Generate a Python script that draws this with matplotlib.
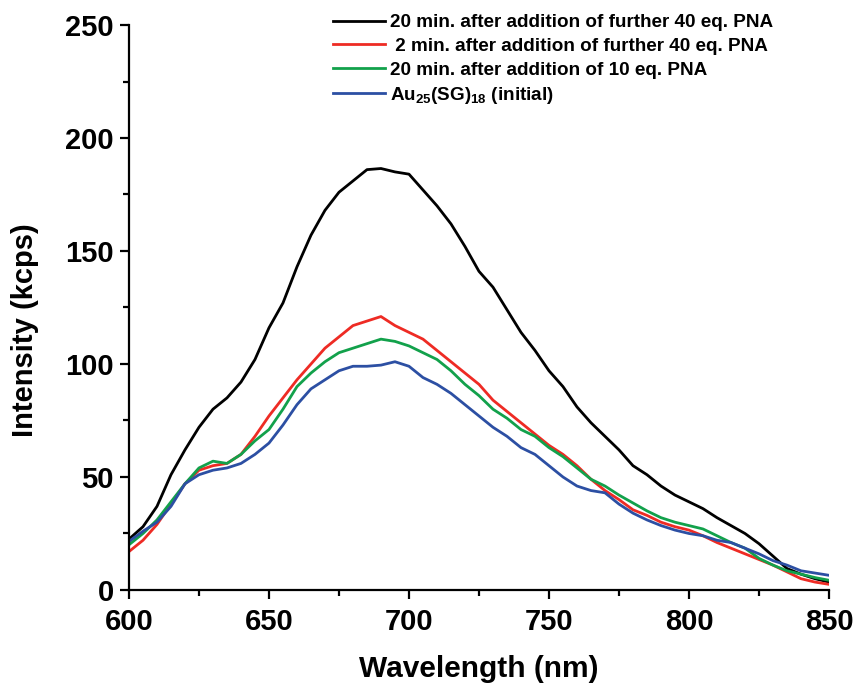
import numpy as np
import matplotlib
matplotlib.use("Agg")
import matplotlib.pyplot as plt
from matplotlib.ticker import MultipleLocator

plt.rcParams['font.family'] = ['Liberation Sans', 'DejaVu Sans']
plt.rcParams['font.weight'] = 'bold'
plt.rcParams['mathtext.fontset'] = 'custom'
plt.rcParams['mathtext.rm'] = 'Liberation Sans:bold'
plt.rcParams['mathtext.default'] = 'rm'

# wavelength grid (nm), values read every 5 nm
wl = np.arange(600, 851, 5)

black = [22.5, 28, 37, 51, 62, 72, 80, 85, 92, 102,
         116, 127, 143, 157, 168, 176, 181, 186, 186.5, 185,
         184, 177, 170, 162, 152, 141, 134, 124, 114, 106,
         97, 90, 81, 74, 68, 62, 55, 51, 46, 42,
         39, 36, 32, 28.5, 25, 20.5, 15, 9.5, 7, 5, 3.5]

red = [17, 22, 29, 38, 47, 53, 55, 56, 60, 68,
       77, 85, 93, 100, 107, 112, 117, 119, 121, 117,
       114, 111, 106, 101, 96, 91, 84, 79, 74, 69,
       64, 60, 55, 49, 44, 40, 35.5, 33, 30, 28,
       26.5, 24, 21, 18.5, 16, 13.5, 11, 8, 5, 3.5, 2.5]

green = [20, 25, 31, 39, 47, 54, 57, 56, 60, 66,
         71, 80, 90, 96, 101, 105, 107, 109, 111, 110,
         108, 105, 102, 97, 91, 86, 80, 76, 71, 68,
         63, 59, 54, 49, 46, 42, 38.5, 35, 32, 30,
         28.5, 27, 24, 21, 18.5, 14, 11, 8.5, 7, 5.5, 4.3]

blue = [21.5, 26, 30, 37, 47, 51, 53, 54, 56, 60,
        65, 73, 82, 89, 93, 97, 99, 99, 99.5, 101,
        99, 94, 91, 87, 82, 77, 72, 68, 63, 60,
        55, 50, 46, 44, 43, 38, 34, 31, 28.5, 26.5,
        25, 24, 22, 21, 18.5, 16, 13, 11, 8.5, 7.5, 6.5]

labels = ["20 min. after addition of further 40 eq. PNA",
          " 2 min. after addition of further 40 eq. PNA",
          "20 min. after addition of 10 eq. PNA",
          r"Au$_{25}$(SG)$_{18}$ (initial)"]
colors = ["#000000", "#ee2b24", "#12a14b", "#2c4fa3"]

fig = plt.figure(figsize=(8.57, 6.85), dpi=100)
ax = fig.add_axes([0.1505, 0.1387, 0.8168, 0.8248])

for y, c, lab in zip([black, red, green, blue], colors, labels):
    ax.plot(wl, y, color=c, lw=2.0, label=lab)

ax.set_xlim(600, 850)
ax.set_ylim(0, 250)
ax.xaxis.set_major_locator(MultipleLocator(50))
ax.xaxis.set_minor_locator(MultipleLocator(25))
ax.yaxis.set_major_locator(MultipleLocator(50))
ax.yaxis.set_minor_locator(MultipleLocator(25))
ax.spines['top'].set_visible(False)
ax.spines['right'].set_visible(False)
for s in ['left', 'bottom']:
    ax.spines[s].set_linewidth(1.6)
ax.tick_params(which='major', direction='out', length=6.5, width=1.6, labelsize=21)
ax.tick_params(axis='x', which='major', pad=6.5)
ax.tick_params(axis='y', which='major', pad=4.5)
ax.tick_params(which='minor', direction='out', length=4, width=1.6)

ax.set_xlabel("Wavelength (nm)", fontsize=21.5, fontweight='bold', labelpad=13.5)
ax.set_ylabel("Intensity (kcps)", fontsize=21, fontweight='bold')
ax.yaxis.set_label_coords(-0.128, 0.46)

ax.legend(loc='upper left', bbox_to_anchor=(333 / 857, 1 - 14 / 685),
          bbox_transform=fig.transFigure, borderaxespad=0, borderpad=0,
          frameon=False, fontsize=13.6, handlelength=2.75,
          handletextpad=0.25, labelspacing=0.34)

fig.savefig("out.png", dpi=100)
